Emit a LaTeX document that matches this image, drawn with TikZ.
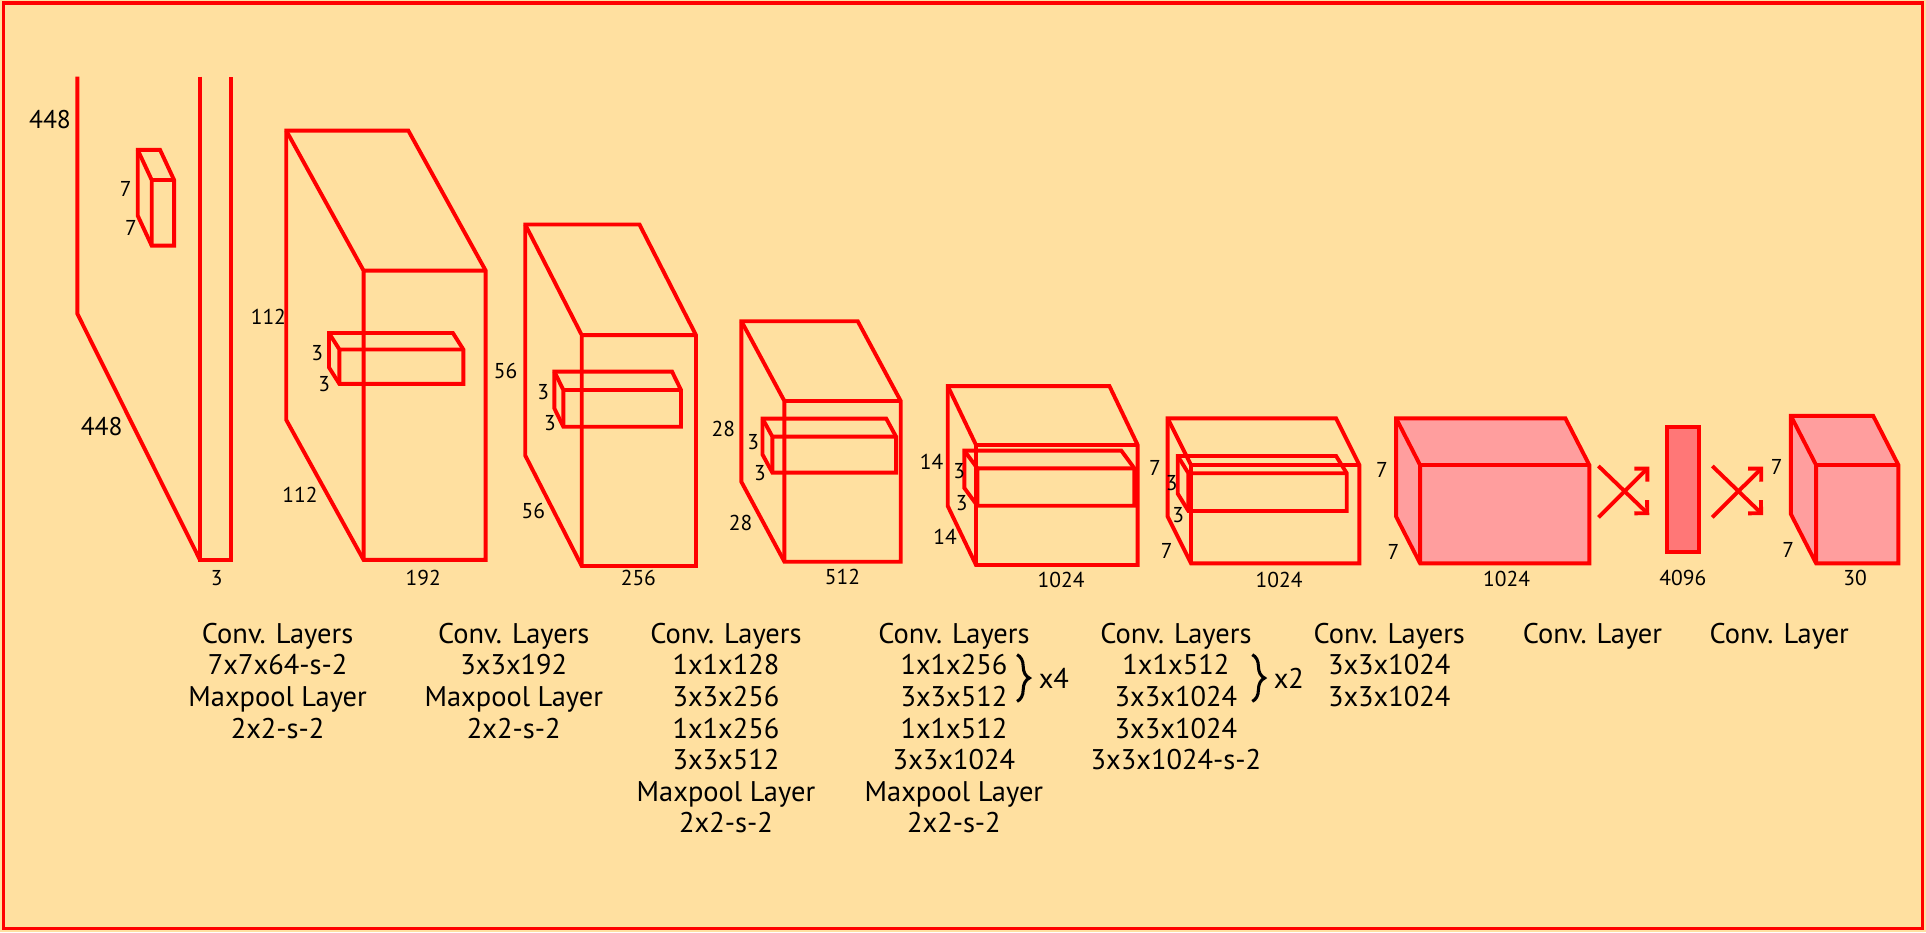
\documentclass[tikz,border=0pt]{standalone}
\usepackage{fontspec}
\setmainfont{PT Sans}
\usetikzlibrary{arrows.meta,decorations.pathreplacing,positioning}
\definecolor{sand}{RGB}{255,224,160}
\definecolor{netred}{RGB}{255,0,0}
\definecolor{lightpink}{RGB}{255,158,158}
\definecolor{salmon}{RGB}{255,119,119}

\begin{document}
\begin{tikzpicture}
  [x=0.6pt,y=-0.6pt,
   every node/.style={inner sep=0pt,font=\fontsize{10.5}{12}\selectfont},
   outline/.style={draw=netred,line width=1.9pt},
   bigdim/.style={font=\fontsize{12.5}{14}\selectfont},
   layers/.style={align=center,anchor=north,font=\fontsize{13.9}{15.4}\selectfont},
   fc/.style={draw=netred,line width=1.9pt,-{Straight Barb[length=4.5pt,width=9pt]}},
   curly/.style={draw,line width=1.5pt,decorate,decoration={brace,amplitude=6pt}}]
  \useasboundingbox (0,0) rectangle (1568,759);
  \fill[sand] (0,0) rectangle (1568,759);
  \draw[netred,line width=1.6pt] (2.8,2.5) rectangle (1565.2,756.1);

  % input image
  \draw[outline] (63,62.3) -- (63,255.5) -- (162.8,455.8);
  \draw[outline] (162.8,62.3) -- (162.8,455.8) -- (187.8,455.8) -- (187.8,62.3);

  % boxes: front left/top/right/bottom, depth, fill
  \foreach \l/\t/\r/\b/\dx/\dy/\c in {
      123.5/146.5/141.7/200/11.4/24.5/none,
      296/220.3/395.4/455.8/63/114/none,
      276.3/284.5/377.2/312.5/8.5/13.4/none,
      473.6/272.8/566.6/460.8/46/90/none,
      458.6/317.5/554.4/347.4/7.3/15/none,
      638.6/326.5/733.3/457.3/35/65/none,
      628.8/355.5/729.5/384.8/8/14.7/none,
      794.6/362.3/926.2/460/23/48/none,
      795.7/381.3/923.5/411.7/10.6/14.4/none,
      969.6/378.6/1106.7/458.6/19/38/none,
      967.5/385.3/1096.4/416/8.7/14.1/none,
      1156.1/378.6/1293.9/458.6/19.5/38/lightpink,
      1478.5/378.6/1545.5/458.6/20.5/40/lightpink}
  {
    \path[outline,fill=\c] (\l,\b) -- (\l-\dx,\b-\dy) -- (\l-\dx,\t-\dy)
      -- (\r-\dx,\t-\dy) -- (\r,\t) -- (\r,\b) -- cycle;
    \draw[outline] (\l-\dx,\t-\dy) -- (\l,\t) -- (\r,\t) (\l,\t) -- (\l,\b);
  }

  % fully connected part
  \draw[outline,fill=salmon] (1356.9,347.4) rectangle (1383.5,449.7);
  \foreach \sx/\n in {0/a,92.7/b}
  {
    \coordinate (\n1) at (1301.3+\sx,379.4);
    \coordinate (\n2) at (1342.7+\sx,419.3);
    \coordinate (\n3) at (1301.3+\sx,421.2);
    \coordinate (\n4) at (1342.7+\sx,379.9);
    \draw[fc] (\n1) -- (\n2);
    \draw[fc] (\n3) -- (\n4);
  }

  % sizes
  \node[bigdim] (h0) at (40.7,97.2) {448};
  \node[bigdim] (w0) at (82.8,347.4) {448};
  \foreach \x/\y/\s [count=\i] in {
      176.4/470.5/3, 102.3/154.2/7, 106.7/185.4/7,
      218.5/258/112, 244.2/402.8/112, 344.6/470.5/192, 258.3/287.3/3, 264/313.1/3,
      411.7/301.8/56, 434.2/416/56, 519.7/470.3/256, 442.3/318.9/3, 447.8/344.6/3,
      588.9/349.5/28, 603/426/28, 685.8/470/512, 613.3/359.6/3, 618.7/385.4/3,
      758.5/375.9/14, 769.4/436.9/14, 863.8/472.2/1024, 781/383.5/3, 782.9/409.2/3,
      940.3/381.3/7, 949.8/448.3/7, 1041.3/472.2/1024, 953.9/393.5/3, 959.3/419.3/3,
      1125/382.6/7, 1134.4/449.1/7, 1226.6/471.4/1024,
      1370/470.8/4096,
      1446.4/380.5/7, 1455.9/447.8/7, 1510.2/470.8/30}
    \node (d\i) at (\x,\y) {\s};

  % layer descriptions
  \node[layers] (c1) at (226,507) {Conv. Layers\\7x7x64-s-2\\Maxpool Layer\\2x2-s-2};
  \node[layers] (c2) at (418.3,507) {Conv. Layers\\3x3x192\\Maxpool Layer\\2x2-s-2};
  \node[layers] (c3) at (591,507) {Conv. Layers\\1x1x128\\3x3x256\\1x1x256\\3x3x512\\Maxpool Layer\\2x2-s-2};
  \node[layers] (c4) at (776.6,507) {Conv. Layers\\1x1x256\\3x3x512\\1x1x512\\3x3x1024\\Maxpool Layer\\2x2-s-2};
  \node[layers] (c5) at (957.3,507) {Conv. Layers\\1x1x512\\3x3x1024\\3x3x1024\\3x3x1024-s-2};
  \node[layers] (c6) at (1131,507) {Conv. Layers\\3x3x1024\\3x3x1024};
  \node[layers] (c7) at (1296.4,507) {Conv. Layer};
  \node[layers] (c8) at (1448.5,507) {Conv. Layer};
  \draw[curly] (828,533) -- (828,571);
  \node[layers,anchor=center] (r4) at (858,552.2) {x4};
  \draw[curly] (1019.5,533) -- (1019.5,571);
  \node[layers,anchor=center] (r5) at (1049.3,552.2) {x2};
\end{tikzpicture}
\end{document}
